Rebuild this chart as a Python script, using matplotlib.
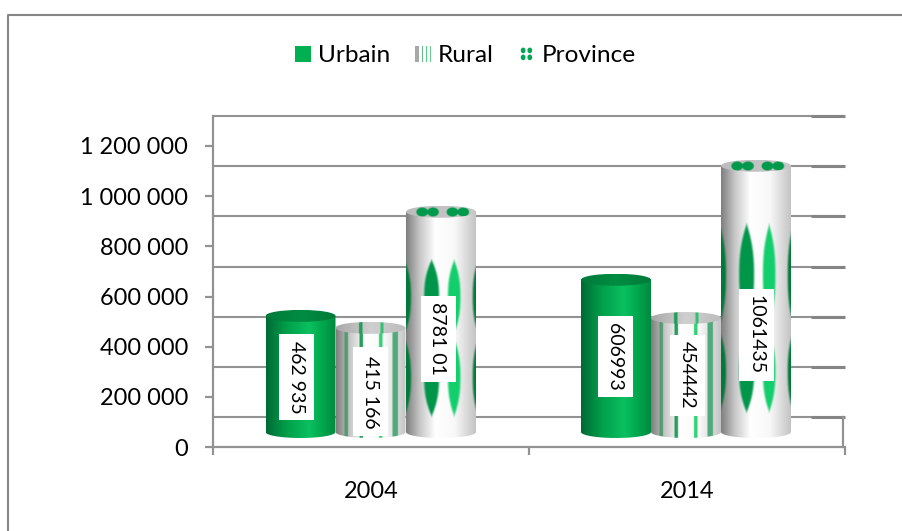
import numpy as np
import matplotlib
matplotlib.use("Agg")
import matplotlib.pyplot as plt
from matplotlib.patches import Rectangle, Ellipse, PathPatch, Patch
from matplotlib.path import Path
from matplotlib.legend_handler import HandlerBase
from matplotlib.colors import to_rgb

# ---------- data ----------
years = ["2004", "2014"]
series = ["Urbain", "Rural", "Province"]
urbain = [462935, 606993]
rural = [415166, 454442]
province = [878101, 1061435]
labels_urbain = ["462 935", "606993"]
labels_rural = ["415 166", "454442"]
labels_province = ["8781 01", "1061435"]
yticks = [0, 200000, 400000, 600000, 800000, 1000000, 1200000]
ytick_labels = ["0", "200 000", "400 000", "600 000", "800 000", "1 000 000", "1 200 000"]

# ---------- layout ----------
W, H = 902, 531
AX_L, AX_R, AX_B, AX_T = 213, 845, 447, 146
PX_Y = 1200000 / (AX_B - AX_T)
PX_X = 2 / (AX_R - AX_L)
BASE = 15 * PX_Y          # bars stand on the 3D floor, above the front axis
BACK = 30 * PX_Y          # back wall shift of the gridlines
BAR_W = 70 * PX_X
CAP = 6.0 * PX_Y
GRID = "#929292"
FS = 16.9
FS_LEG = 17.6
FS_LAB = 14.0
plt.rcParams["font.family"] = ["Lato", "DejaVu Sans"]

fig = plt.figure(figsize=(W / 100, H / 100), dpi=100, facecolor="white")
ax = fig.add_axes([AX_L / W, 1 - AX_B / H, (AX_R - AX_L) / W, (AX_B - AX_T) / H])
ax.set_xlim(0, 2)
ax.set_ylim(0, 1200000)
ax.set_autoscale_on(False)
ax.patch.set_visible(False)

# outer frame
fig.add_artist(plt.Line2D([8 / W, 8 / W, 1], [0, 1 - 15 / H, 1 - 15 / H], color="#868686", lw=1.5))

# axes
for s in ("top", "right"):
    ax.spines[s].set_visible(False)
ax.spines["left"].set_color(GRID); ax.spines["left"].set_linewidth(1.6)
ax.spines["bottom"].set_color(GRID); ax.spines["bottom"].set_linewidth(1.6)
ax.spines["left"].set_bounds(0, 1200000 + BACK)
ax.spines["left"].set_zorder(1)
ax.set_yticks(yticks, ytick_labels, fontsize=FS, color="#000000")
ax.tick_params(axis="y", length=6, width=1.6, color=GRID, pad=12)
ax.set_xticks([0.5, 1.5], years, fontsize=FS, color="#000000")
ax.set_xticks([0, 1, 2], minor=True)
ax.tick_params(axis="x", which="major", length=0, pad=24.5)
ax.tick_params(axis="x", which="minor", length=6, width=1.6, color=GRID)
ax.hlines(np.array(yticks) + BACK, 0, 2, color=GRID, lw=1.5, clip_on=False, zorder=1)
ax.hlines(np.array(yticks) + BACK, 2 - 34 * PX_X, 2, color="#858585", lw=2.2, clip_on=False, zorder=1)
ax.plot([2 - 2 * PX_X] * 2, [0, BACK], color=GRID, lw=1.6, zorder=1, clip_on=False)


def ramp(u, stops):
    xs = [s[0] for s in stops]
    cols = np.array([to_rgb(s[1]) for s in stops])
    return np.stack([np.interp(u, xs, cols[:, i]) for i in range(3)], axis=-1)


GREEN_STOPS = [(0, "#006a35"), (0.3, "#00a04a"), (0.62, "#0bc060"), (0.8, "#00a84e"), (1, "#008a40")]
CAP_GREEN = [(0, "#00793a"), (0.5, "#008d42"), (1, "#007a39")]
GRAY_STOPS = [(0, "#7f7f7f"), (0.2, "#c8c8c8"), (0.42, "#ffffff"), (0.7, "#f8f8f8"), (1, "#c4c4c4")]
GRAY_CAP = [(0, "#a8a8a8"), (0.5, "#cfcfcf"), (1, "#bdbdbd")]
STRIPES = [(0.146, 0.05, "#4e9a6e"), (0.36, 0.05, "#1c9a55"), (0.64, 0.045, "#28d070"), (0.85, 0.08, "#4aa878")]
LENSES = [(-0.02, 0.105, "#00793a"), (0.365, 0.125, "#00964a"), (0.69, 0.107, "#12cf6c"), (1.03, 0.09, "#00793a")]


def blend(img, mask, colour):
    c = np.array(to_rgb(colour))
    return img * (1 - mask[..., None]) + c * mask[..., None]


def tex_urbain(u, v):
    return ramp(u, GREEN_STOPS)


def tex_rural(u, v):
    img = ramp(u, GRAY_STOPS)
    for c, w, col in STRIPES:
        img = blend(img, (np.abs(u - c) < w / 2) * 0.95, col)
    return img


def make_tex_province(pinch):
    def tex(u, v):
        img = ramp(u, GRAY_STOPS)
        for c, w, col in LENSES:
            for v0, v1 in ((0.205, pinch), (pinch, 0.915)):
                mid, half = (v0 + v1) / 2, (v1 - v0) / 2
                s = np.clip(np.abs(v - mid) / half, 0, 1)
                profile = w * (1 - s ** 2.4)          # leaf shape with pointed ends
                d = profile - np.abs(u - c)
                img = blend(img, np.clip(d / 0.035, 0, 1) * (s < 1), col)
        return img
    return tex


def cap_plain(stops):
    def tex(u, v):
        return ramp(u, stops)
    return tex


def cap_rural(u, v):
    img = ramp(u, GRAY_CAP)
    for c, w, col in [(0.35, 0.05, "#1c9a55"), (0.66, 0.04, "#28c070")]:
        img = blend(img, (np.abs(u - c) < w / 2) * 0.95, col)
    return img


def cap_province(u, v):
    img = ramp(u, [(0, "#bdbdbd"), (1, "#c8c8c8")])
    for c, w in [(0.23, 0.09), (0.385, 0.09), (0.665, 0.09), (0.82, 0.09)]:
        r = ((u - c) / w) ** 2 + ((v - 0.5) / 0.42) ** 2
        img = blend(img, np.clip((1 - r) * 4, 0, 1), "#009a4c")
    return img


def draw_image(fn, x0, x1, y0, y1, clip, z):
    nx, ny = 140, max(8, int((y1 - y0) / PX_Y * 2))
    u, v = np.meshgrid(np.linspace(0, 1, nx), np.linspace(0, 1, ny))
    im = ax.imshow(fn(u, v), extent=(x0, x1, y0, y1), origin="upper", aspect="auto",
                   interpolation="bilinear", zorder=z)
    ax.add_patch(clip)
    clip.set_visible(False)
    im.set_clip_path(clip)


def cylinder(xc, value, body, cap, z):
    x0, x1 = xc - BAR_W / 2, xc + BAR_W / 2
    top = BASE + value
    t = np.linspace(np.pi, 2 * np.pi, 40)
    ex = xc + BAR_W / 2 * np.cos(t)
    ey = BASE + CAP * np.sin(t)
    verts = [(x0, top)] + list(zip(ex, ey)) + [(x1, top), (x0, top)]
    codes = [Path.MOVETO] + [Path.LINETO] * (len(verts) - 2) + [Path.CLOSEPOLY]
    draw_image(body, x0, x1, BASE - CAP, top, PathPatch(Path(verts, codes), transform=ax.transData), z)
    draw_image(cap, x0, x1, top - CAP, top + CAP,
               Ellipse((xc, top), BAR_W, 2 * CAP, transform=ax.transData), z + 0.1)


def px_x(p):
    return (p - AX_L) * PX_X


centres_u = [px_x(300.5), px_x(616)]
centres_r = [px_x(370.5), px_x(686)]
centres_p = [px_x(441), px_x(756)]
pinches = [0.55, 0.6]
# label centre in pixels below the middle of the bar, and left of the bar centre
label_dy = [[3.5, 12, 17], [1, 0, 36]]
label_dx = [[-4, 0, -3], [-1, 1, 0]]
box_len = [[86, 89, 86], [81, 81, 92]]

for i in range(2):
    cylinder(centres_p[i], province[i], make_tex_province(pinches[i]), cap_province, 3)
    cylinder(centres_r[i], rural[i], tex_rural, cap_rural, 4)
    cylinder(centres_u[i], urbain[i], tex_urbain, cap_plain(CAP_GREEN), 5)
    for j, (cx, val, txt) in enumerate([(centres_u[i], urbain[i], labels_urbain[i]),
                                        (centres_r[i], rural[i], labels_rural[i]),
                                        (centres_p[i], province[i], labels_province[i])]):
        xx = cx + label_dx[i][j] * PX_X
        yy = BASE + val / 2 - label_dy[i][j] * PX_Y
        ax.add_patch(Rectangle((xx - 17.5 * PX_X, yy - box_len[i][j] / 2 * PX_Y), 35 * PX_X,
                               box_len[i][j] * PX_Y, fc="white", ec="none", zorder=7))
        ax.text(xx, yy, txt, rotation=270, ha="center", va="center", fontsize=FS_LAB,
                color="#000000", zorder=8)


# ---------- legend ----------
class RuralHandler(HandlerBase):
    def create_artists(self, legend, orig, xd, yd, w, h, fs, trans):
        out = [Rectangle((-xd, -yd), w * 0.24, h, fc="#a8a8a8", ec="none", transform=trans)]
        for f, c in [(0.42, "#66bb88"), (0.68, "#55d08a"), (0.92, "#66cc90")]:
            out.append(Rectangle((-xd + w * f, -yd), w * 0.08, h, fc=c, ec="none", transform=trans))
        return out


class ProvinceHandler(HandlerBase):
    def create_artists(self, legend, orig, xd, yd, w, h, fs, trans):
        out = []
        for fx in (0.3, 0.72):
            for fy in (0.28, 0.72):
                out.append(Ellipse((-xd + w * fx, -yd + h * fy), w * 0.3, h * 0.36,
                                   fc="#00a651", ec="none", transform=trans))
        return out


handles = [Patch(fc="#00b050", ec="none"), Patch(label="r"), Patch(label="p")]
leg = fig.legend(handles, series, loc="center", bbox_to_anchor=(465.5 / W, 1 - 56 / H), ncols=3,
                 frameon=False, fontsize=FS_LEG, handlelength=0.65, handleheight=0.62, handletextpad=0.29,
                 columnspacing=1.0, labelcolor="#000000",
                 handler_map={handles[1]: RuralHandler(), handles[2]: ProvinceHandler()})

fig.savefig("out.png", dpi=100)
